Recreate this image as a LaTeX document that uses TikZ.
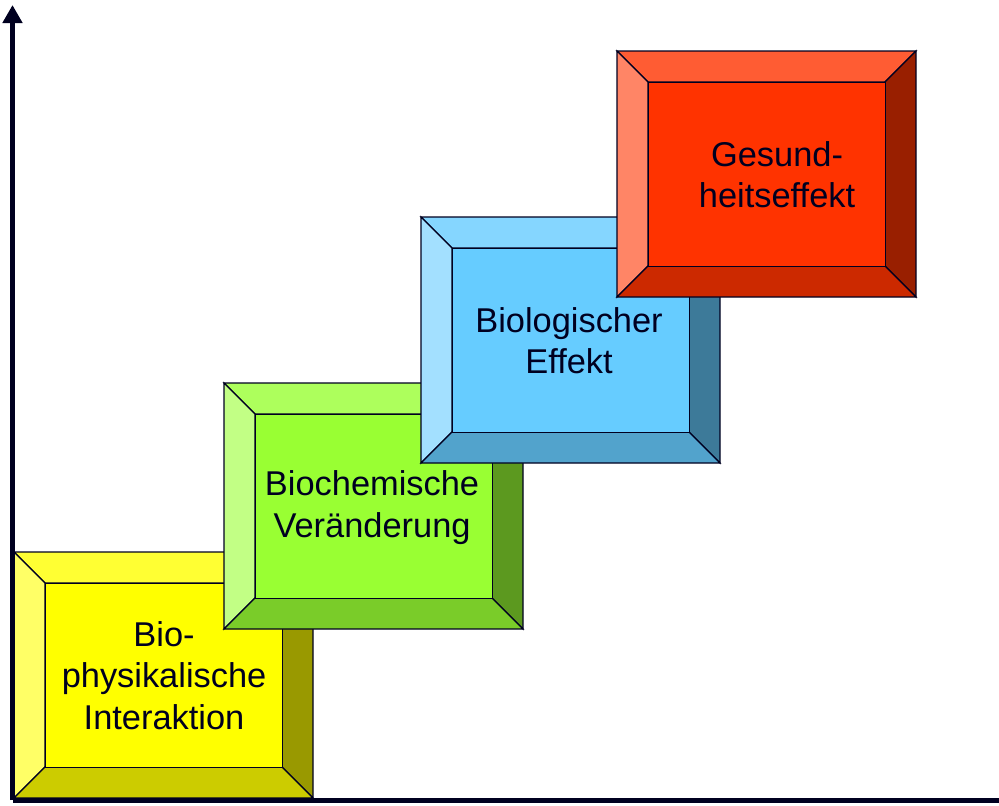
\documentclass[tikz,border=0pt]{standalone}
\usepackage{fontspec}
\setmainfont{Liberation Sans}
\usetikzlibrary{arrows.meta}
\definecolor{navy}{RGB}{0,0,32}
\definecolor{cyel}{RGB}{255,255,0}
\definecolor{cgrn}{RGB}{153,255,51}
\definecolor{cblu}{RGB}{102,204,255}
\definecolor{cred}{RGB}{255,51,0}
\tikzset{
  edge/.style={draw=navy, line width=1.1pt, line join=miter},
  face/.style={edge, minimum width=237pt, minimum height=184pt, inner sep=0pt, anchor=north west},
  lbl/.style={text=navy, align=center, font=\fontsize{34.4}{41.5}\selectfont, inner sep=0pt},
  axis/.style={draw=navy, line width=5pt}
}
\newcommand\bevbox[4]{%
  \begin{scope}[shift={(#2,#3)}]
    \filldraw[edge, fill=#4!80!white] (0,0) -- (299,0) -- (268,31) -- (31,31) -- cycle;
    \filldraw[edge, fill=#4!60!white] (0,0) -- (31,31) -- (31,215) -- (0,246) -- cycle;
    \filldraw[edge, fill=#4!60!black] (299,0) -- (299,246) -- (268,215) -- (268,31) -- cycle;
    \filldraw[edge, fill=#4!80!black] (0,246) -- (299,246) -- (268,215) -- (31,215) -- cycle;
    \node[face, fill=#4] (#1) at (31,31) {};
  \end{scope}}
\begin{document}
\begin{tikzpicture}[x=1pt, y=-1pt]
  \useasboundingbox (0,0) rectangle (999,806);
  \bevbox{b1}{14}{552}{cyel}
  \node[lbl] (t1) at (b1.center) {Bio-\\physikalische\\Interaktion};
  \bevbox{b2}{224}{383}{cgrn}
  \node[lbl, xshift=-2pt, yshift=-1pt] (t2) at (b2.center) {Biochemische\\Veränderung};
  \bevbox{b3}{421}{217}{cblu}
  \node[lbl, xshift=-2pt] (t3) at (b3.center) {Biologischer\\Effekt};
  \bevbox{b4}{617}{51}{cred}
  \node[lbl, xshift=10pt] (t4) at (b4.center) {Gesund-\\heitseffekt};
  \coordinate (origin) at (12.5,800);
  \coordinate (ytop) at (12.5,5);
  \coordinate (xend) at (999,800);
  \draw[axis, -{Triangle[length=18pt, width=19pt]}] (origin) -- (ytop);
  \draw[axis] (origin) -- (xend);
\end{tikzpicture}
\end{document}
